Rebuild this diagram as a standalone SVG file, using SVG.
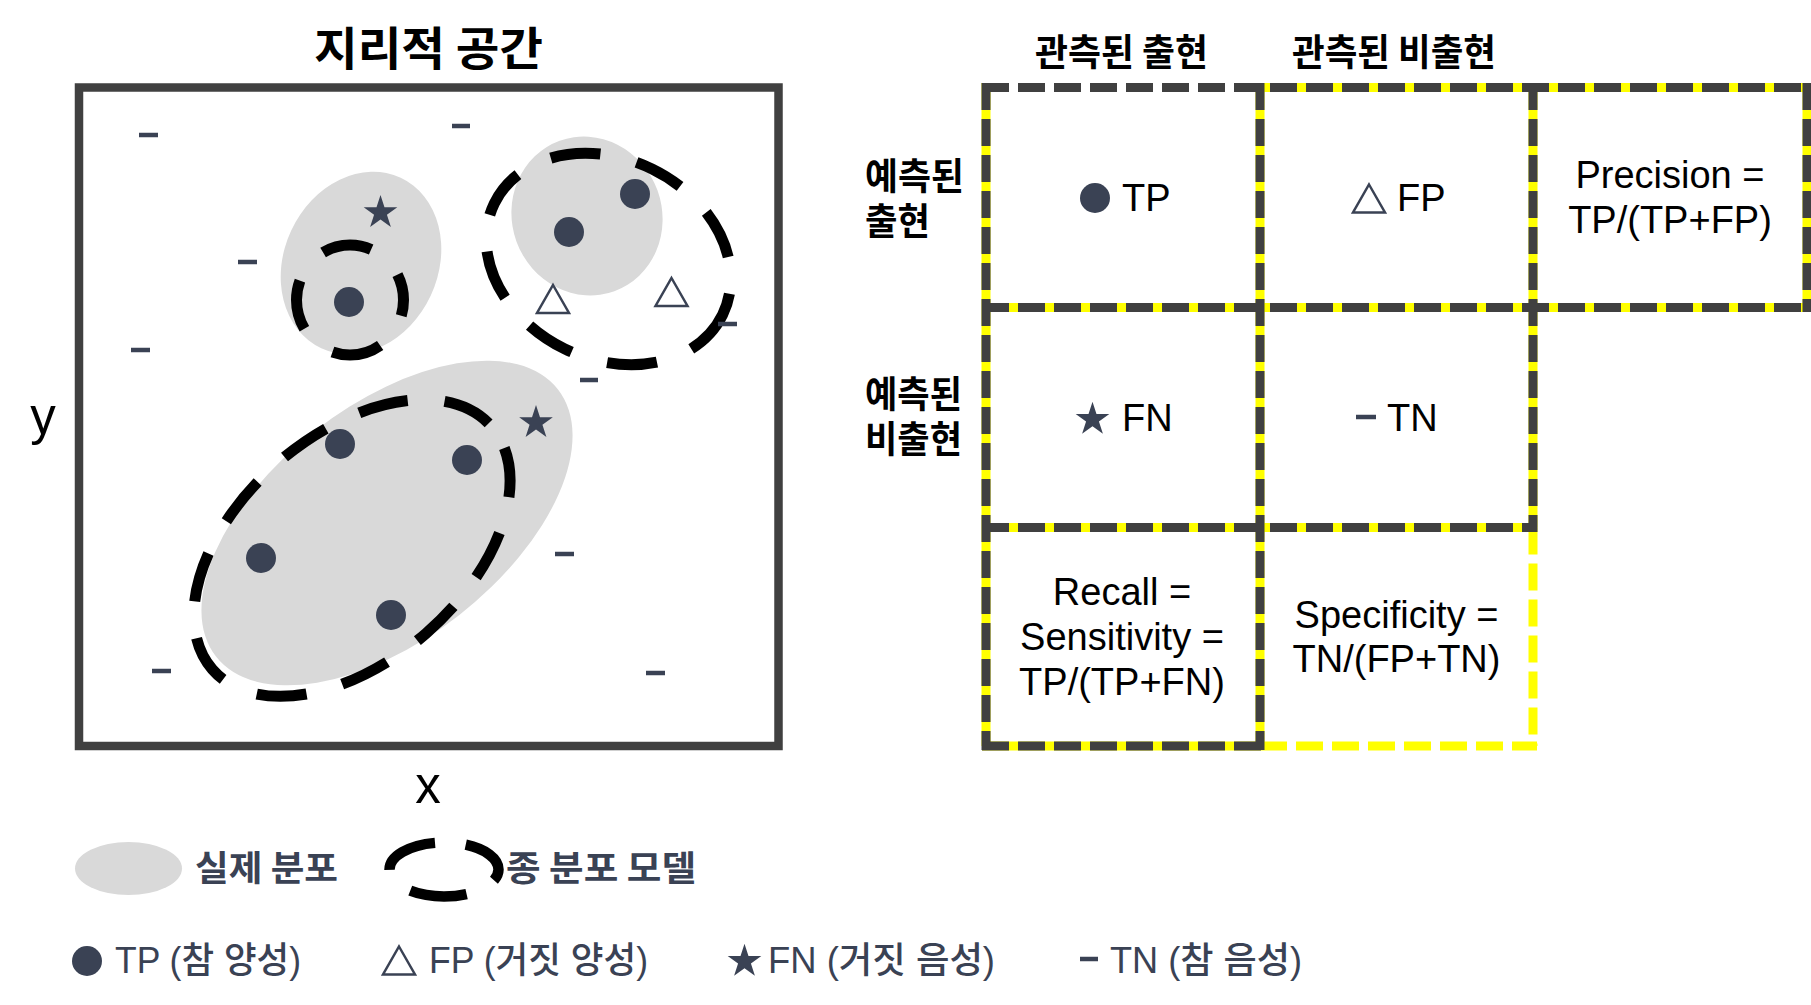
<svg xmlns="http://www.w3.org/2000/svg" width="1811" height="1005" viewBox="0 0 1811 1005">
<style>
.hd{font-family:"Noto Sans CJK KR","Noto Sans CJK SC",sans-serif;font-weight:700;font-size:37px;fill:#000;}
.ttl{font-family:"Noto Sans CJK KR","Noto Sans CJK SC",sans-serif;font-weight:700;font-size:46px;fill:#000;}
.ax{font-family:"Liberation Sans",Arial,sans-serif;font-size:51px;fill:#000;}
.cell{font-family:"Liberation Sans",Arial,sans-serif;font-size:38px;fill:#000;}
.leg{font-family:"Liberation Sans","Noto Sans CJK KR",sans-serif;font-size:36px;fill:#3a4254;font-weight:500;}
.legk{font-family:"Noto Sans CJK KR","Noto Sans CJK SC",sans-serif;font-size:35px;fill:#3a4254;font-weight:700;}
.area{fill:#d9d9d9;}
.model{fill:none;stroke:#000;stroke-width:11;stroke-dasharray:50 37;}
.mk{fill:#3a4254;}
.tri{fill:none;stroke:#3a4254;stroke-width:2.5;}
.neg{stroke:#3a4254;stroke-width:4.5;}
.yel{stroke:#ffff00;stroke-width:9;fill:none;}
.yeld{stroke:#ffff00;stroke-width:9;fill:none;stroke-dasharray:27 9;}
.grid{stroke:#404040;stroke-width:9;fill:none;stroke-dasharray:27 9;}
</style>
<defs>
<polygon id="star" points="0,-17.7 3.97,-5.47 16.83,-5.47 6.43,2.09 10.4,14.32 0,6.76 -10.4,14.32 -6.43,2.09 -16.83,-5.47 -3.97,-5.47"/>
<polygon id="tri" points="0,-14 16,14 -16,14"/>
</defs>
<rect width="1811" height="1005" fill="#fff"/>

<g id="map">
<text class="ttl" x="428.5" y="65" text-anchor="middle" textLength="229" lengthAdjust="spacingAndGlyphs">지리적 공간</text>
<rect x="79" y="87.5" width="699.5" height="658.5" fill="#fff" stroke="#404040" stroke-width="8.5"/>
<text class="ax" x="43" y="434" text-anchor="middle">y</text>
<text class="ax" x="428" y="803" text-anchor="middle">x</text>
</g>

<g id="actual-distributions">
<ellipse class="area" cx="361" cy="263" rx="77" ry="94" transform="rotate(25 361 263)"/>
<ellipse class="area" cx="587" cy="216" rx="75" ry="80" transform="rotate(-20 587 216)"/>
<ellipse class="area" cx="387" cy="523" rx="217" ry="117" transform="rotate(-38 387 523)"/>
</g>

<g id="model-distributions">
<ellipse class="model" cx="350" cy="300" rx="53.5" ry="55" stroke-dashoffset="34"/>
<ellipse class="model" cx="608.5" cy="259" rx="127" ry="100" transform="rotate(26 608.5 259)" stroke-dashoffset="3"/>
<ellipse class="model" cx="352" cy="548" rx="185" ry="113" transform="rotate(-41 352 548)" stroke-dashoffset="62"/>
</g>

<g id="points">
<circle class="mk" cx="635" cy="194" r="15"/>
<circle class="mk" cx="569" cy="232" r="15"/>
<circle class="mk" cx="349" cy="302" r="15"/>
<circle class="mk" cx="340" cy="444" r="15"/>
<circle class="mk" cx="467" cy="460" r="15"/>
<circle class="mk" cx="261" cy="558" r="15"/>
<circle class="mk" cx="391" cy="615" r="15"/>
<use href="#star" class="mk" transform="translate(380.5 212.7)"/>
<use href="#star" class="mk" transform="translate(536 422.7)"/>
<use href="#tri" class="tri" transform="translate(553 299)"/>
<use href="#tri" class="tri" transform="translate(671.5 292)"/>
<line class="neg" x1="139" y1="135" x2="158" y2="135"/>
<line class="neg" x1="452" y1="126" x2="470" y2="126"/>
<line class="neg" x1="238" y1="262" x2="257" y2="262"/>
<line class="neg" x1="131" y1="350" x2="150" y2="350"/>
<line class="neg" x1="580" y1="380" x2="598" y2="380"/>
<line class="neg" x1="718" y1="324" x2="737" y2="324"/>
<line class="neg" x1="555" y1="554" x2="574" y2="554"/>
<line class="neg" x1="152" y1="671" x2="171" y2="671"/>
<line class="neg" x1="646" y1="673" x2="665" y2="673"/>
</g>

<g id="matrix-headers">
<text class="hd" x="1121.5" y="65.5" text-anchor="middle" textLength="173" lengthAdjust="spacingAndGlyphs">관측된 출현</text>
<text class="hd" x="1394" y="65.5" text-anchor="middle" textLength="204" lengthAdjust="spacingAndGlyphs">관측된 비출현</text>
<text class="hd"><tspan x="865" y="190" textLength="99" lengthAdjust="spacingAndGlyphs">예측된</tspan><tspan x="865" y="235" textLength="65" lengthAdjust="spacingAndGlyphs">출현</tspan></text>
<text class="hd"><tspan x="865" y="408" textLength="97" lengthAdjust="spacingAndGlyphs">예측된</tspan><tspan x="865" y="453" textLength="97" lengthAdjust="spacingAndGlyphs">비출현</tspan></text>
</g>

<g id="grid">
<path class="yel" d="M1260 87.5H1807 M986 83V746 M1260 83V746 M1533 83V527.5 M1807 83V307.5 M982 307.5H1811 M982 527.5H1537 M982 746H1260"/>
<path class="yeld" d="M1533 527.5V746 M1260 746H1537"/>
<path class="grid" d="M982 87.5H1811 M982 307.5H1811 M982 527.5H1537 M982 746H1264 M986 83V750 M1260 83V750 M1533 83V532 M1807 83V312"/>
</g>

<g id="cell-tp">
<circle class="mk" cx="1095" cy="198" r="15"/>
<text class="cell" x="1122" y="211">TP</text>
</g>
<g id="cell-fp">
<use href="#tri" class="tri" transform="translate(1369 198.5)"/>
<text class="cell" x="1397" y="211">FP</text>
</g>
<g id="cell-precision">
<text class="cell" x="1670" y="188" text-anchor="middle">Precision =</text>
<text class="cell" x="1670" y="233" text-anchor="middle">TP/(TP+FP)</text>
</g>
<g id="cell-fn">
<use href="#star" class="mk" transform="translate(1092.5 419.5)"/>
<text class="cell" x="1122" y="431">FN</text>
</g>
<g id="cell-tn">
<line class="neg" x1="1356" y1="417" x2="1376" y2="417"/>
<text class="cell" x="1387" y="431">TN</text>
</g>
<g id="cell-recall">
<text class="cell" x="1122" y="605" text-anchor="middle">Recall =</text>
<text class="cell" x="1122" y="650" text-anchor="middle">Sensitivity =</text>
<text class="cell" x="1122" y="695" text-anchor="middle">TP/(TP+FN)</text>
</g>
<g id="cell-specificity">
<text class="cell" x="1396.5" y="628" text-anchor="middle">Specificity =</text>
<text class="cell" x="1396.5" y="672" text-anchor="middle">TN/(FP+TN)</text>
</g>

<g id="legend-actual">
<ellipse class="area" cx="128.5" cy="868.5" rx="53.5" ry="26.5"/>
<text class="legk" x="195" y="881" textLength="143" lengthAdjust="spacingAndGlyphs">실제 분포</text>
</g>
<g id="legend-model">
<ellipse cx="444" cy="869.5" rx="54.5" ry="27" fill="none" stroke="#000" stroke-width="10.5" stroke-dasharray="57 31" stroke-dashoffset="45"/>
<text class="legk" x="506" y="881" textLength="190" lengthAdjust="spacingAndGlyphs">종 분포 모델</text>
</g>
<g id="legend-tp">
<circle class="mk" cx="87" cy="961" r="15"/>
<text class="leg" x="115" y="973" textLength="186" lengthAdjust="spacingAndGlyphs">TP (참 양성)</text>
</g>
<g id="legend-fp">
<use href="#tri" class="tri" transform="translate(399 960.5)"/>
<text class="leg" x="429" y="973" textLength="219" lengthAdjust="spacingAndGlyphs">FP (거짓 양성)</text>
</g>
<g id="legend-fn">
<use href="#star" class="mk" transform="translate(744.5 961.5)"/>
<text class="leg" x="768" y="973" textLength="227" lengthAdjust="spacingAndGlyphs">FN (거짓 음성)</text>
</g>
<g id="legend-tn">
<line class="neg" x1="1080" y1="959" x2="1098" y2="959"/>
<text class="leg" x="1110" y="973" textLength="192" lengthAdjust="spacingAndGlyphs">TN (참 음성)</text>
</g>
</svg>
